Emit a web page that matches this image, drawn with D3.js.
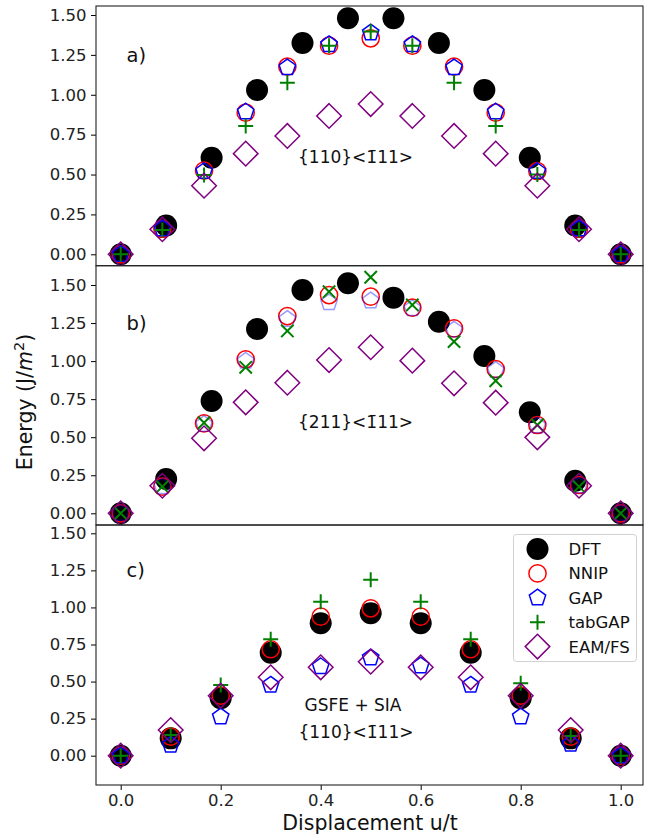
<!DOCTYPE html>
<html>
<head>
<meta charset="utf-8">
<script src="https://cdn.jsdelivr.net/npm/d3@7"></script>
<style>
  body { margin: 0; background: #fff; }
  text { font-family: "DejaVu Sans", sans-serif; }
</style>
</head>
<body>
<script>
// x positions of the samples
var xDFT = [0, 0.0909, 0.1818, 0.2727, 0.3636, 0.4545, 0.5455, 0.6364, 0.7273, 0.8182, 0.9091, 1.0];
var xFit = [0, 0.0833, 0.1667, 0.25, 0.3333, 0.4167, 0.5, 0.5833, 0.6667, 0.75, 0.8333, 0.9167, 1.0];
var xSIA = [0, 0.1, 0.2, 0.3, 0.4, 0.5, 0.6, 0.7, 0.8, 0.9, 1.0];

// panel a) {110}<-111>
var dftA   = [0, 0.18, 0.605, 1.03, 1.325, 1.48, 1.48, 1.325, 1.03, 0.605, 0.18, 0];
var nnipA  = [0, 0.16, 0.525, 0.888, 1.176, 1.308, 1.354, 1.308, 1.176, 0.888, 0.522, 0.16, 0];
var gapA   = [0, 0.16, 0.52, 0.893, 1.17, 1.315, 1.389, 1.315, 1.17, 0.893, 0.52, 0.16, 0];
var tabA   = [0, 0.152, 0.497, 0.804, 1.076, 1.308, 1.396, 1.308, 1.076, 0.804, 0.5, 0.152, 0];
var eamA   = [0, 0.157, 0.43, 0.631, 0.742, 0.867, 0.942, 0.867, 0.742, 0.631, 0.43, 0.157, 0];

// panel b) {211}<-111>
var dftB   = [0, 0.225, 0.738, 1.211, 1.467, 1.511, 1.417, 1.259, 1.034, 0.664, 0.214, 0];
var nnipB  = [0, 0.175, 0.591, 1.012, 1.296, 1.434, 1.423, 1.351, 1.215, 0.948, 0.58, 0.186, 0];
var gapB   = [0, 0.175, 0.585, 1.0, 1.275, 1.384, 1.397, 1.345, 1.205, 0.94, 0.575, 0.18, 0];
var tabB   = [0, 0.175, 0.595, 0.959, 1.198, 1.456, 1.551, 1.369, 1.128, 0.871, 0.58, 0.175, 0];
var eamB   = [0, 0.181, 0.493, 0.729, 0.858, 1.007, 1.091, 1.003, 0.854, 0.727, 0.499, 0.181, 0];

// panel c) GSFE + SIA {110}<-111>
var dftC   = [0, 0.117, 0.387, 0.695, 0.893, 0.961, 0.893, 0.695, 0.387, 0.117, 0];
var nnipC  = [0, 0.128, 0.405, 0.718, 0.938, 0.994, 0.938, 0.718, 0.405, 0.128, 0];
var gapC   = [0, 0.072, 0.263, 0.477, 0.601, 0.661, 0.607, 0.477, 0.263, 0.079, 0];
var tabC   = [0, 0.14, 0.477, 0.785, 1.039, 1.186, 1.039, 0.785, 0.488, 0.133, 0];
var eamC   = [0, 0.173, 0.405, 0.529, 0.596, 0.634, 0.596, 0.529, 0.405, 0.173, 0];

var yTicks = [0, 0.25, 0.5, 0.75, 1.0, 1.25, 1.5];
var xTicks = [0, 0.2, 0.4, 0.6, 0.8, 1.0];
var seriesNames = ['DFT', 'NNIP', 'GAP', 'tabGAP', 'EAM/FS'];

var width = 649, height = 835,
  left = 96, right = 643;

var svg = d3.select('body').append('svg')
  .attr('width', width)
  .attr('height', height);

var x = d3.scaleLinear().domain([0, 1]).range([120.7, 620.7]);

var panels = [
  { top: 6, bottom: 265.7, y0: 254.3, y15: 15, label: 'a)', cross: '+',
    xd: xDFT, xf: xFit, dft: dftA, nnip: nnipA, gap: gapA, tab: tabA, eam: eamA, gapAlpha: 1,
    notes: [{ t: '{110}<1\u030411>', x: 298, y: 163, anchor: 'start' }] },
  { top: 265.7, bottom: 525, y0: 513.3, y15: 285, label: 'b)', cross: 'x',
    xd: xDFT, xf: xFit, dft: dftB, nnip: nnipB, gap: gapB, tab: tabB, eam: eamB, gapAlpha: 0.4,
    notes: [{ t: '{211}<1\u030411>', x: 298, y: 428, anchor: 'start' }] },
  { top: 525, bottom: 785, y0: 755.7, y15: 533.3, label: 'c)', cross: '+',
    xd: xSIA, xf: xSIA, dft: dftC, nnip: nnipC, gap: gapC, tab: tabC, eam: eamC, gapAlpha: 1,
    notes: [{ t: 'GSFE + SIA', x: 353, y: 711, anchor: 'middle' },
            { t: '{110}<1\u030411>', x: 356, y: 738, anchor: 'middle' }] }
];

function pentagon(r) {
  var pts = [];
  for (var i = 0; i < 5; i++) {
    var a = -Math.PI / 2 + i * 2 * Math.PI / 5;
    pts.push([r * Math.cos(a), r * Math.sin(a)]);
  }
  return 'M' + pts.join('L') + 'Z';
}

function drawMarker(g, kind, cx, cy, cross, alpha) {
  var m = g.append('g').attr('transform', 'translate(' + cx + ',' + cy + ')');
  if (kind === 'DFT') {
    m.append('circle').attr('r', 11).attr('fill', '#000');
  } else if (kind === 'NNIP') {
    m.append('circle').attr('r', 8.6).attr('fill', 'none').attr('stroke', 'red').attr('stroke-width', 1.5);
  } else if (kind === 'GAP') {
    m.append('path').attr('d', pentagon(8.6)).attr('fill', 'none')
      .attr('stroke', 'blue').attr('stroke-width', 1.5).attr('opacity', alpha);
  } else if (kind === 'tabGAP') {
    var s = 7.5;
    if (cross === 'x') {
      s = 6.2;
      m.append('path').attr('d', 'M' + -s + ',' + -s + 'L' + s + ',' + s + 'M' + -s + ',' + s + 'L' + s + ',' + -s)
        .attr('stroke', 'green').attr('stroke-width', 2).attr('fill', 'none');
    } else {
      m.append('path').attr('d', 'M' + -s + ',0L' + s + ',0M0,' + -s + 'L0,' + s)
        .attr('stroke', 'green').attr('stroke-width', 2).attr('fill', 'none');
    }
  } else {
    var d = 12.3;
    m.append('path').attr('d', 'M0,' + -d + 'L' + d + ',0L0,' + d + 'L' + -d + ',0Z')
      .attr('fill', 'none').attr('stroke', 'purple').attr('stroke-width', 1.5);
  }
}

panels.forEach(function (p, pi) {
  var y = d3.scaleLinear().domain([0, 1.5]).range([p.y0, p.y15]);
  var g = svg.append('g');

  var clipId = 'clip' + pi;
  svg.append('clipPath').attr('id', clipId).append('rect')
    .attr('x', left).attr('y', p.top).attr('width', right - left).attr('height', p.bottom - p.top);
  var marks = g.append('g').attr('clip-path', 'url(#' + clipId + ')');

  p.xd.forEach(function (xv, i) { drawMarker(marks, 'DFT', x(xv), y(p.dft[i])); });
  p.xf.forEach(function (xv, i) { drawMarker(marks, 'NNIP', x(xv), y(p.nnip[i])); });
  p.xf.forEach(function (xv, i) { drawMarker(marks, 'GAP', x(xv), y(p.gap[i]), null, p.gapAlpha); });
  p.xf.forEach(function (xv, i) { drawMarker(marks, 'tabGAP', x(xv), y(p.tab[i]), p.cross); });
  p.xf.forEach(function (xv, i) { drawMarker(marks, 'EAM/FS', x(xv), y(p.eam[i])); });

  var ax = g.append('g')
    .attr('transform', 'translate(' + left + ',0)')
    .call(d3.axisLeft(y).tickValues(yTicks).tickFormat(d3.format('.2f')).tickSize(5).tickPadding(4.5));
  ax.select('.domain').remove();
  ax.selectAll('line').attr('stroke', '#000').attr('stroke-width', 1);
  ax.selectAll('text').attr('font-size', '16.5px').attr('fill', '#222')
    .style('font-family', '"DejaVu Sans", sans-serif');

  if (pi === 2) {
    var bx = g.append('g')
      .attr('transform', 'translate(0,' + p.bottom + ')')
      .call(d3.axisBottom(x).tickValues(xTicks).tickFormat(d3.format('.1f')).tickSize(5).tickPadding(4.5));
    bx.select('.domain').remove();
    bx.selectAll('line').attr('stroke', '#000').attr('stroke-width', 1);
    bx.selectAll('text').attr('font-size', '16.5px').attr('fill', '#222')
      .style('font-family', '"DejaVu Sans", sans-serif');
  }

  g.append('rect')
    .attr('x', left).attr('y', p.top)
    .attr('width', right - left).attr('height', p.bottom - p.top)
    .attr('fill', 'none').attr('stroke', '#222').attr('stroke-width', 1.1);

  g.append('text').attr('x', 126.5).attr('y', y(1.25) + 7)
    .attr('font-size', '19.5px').attr('fill', '#111').text(p.label);

  p.notes.forEach(function (n) {
    g.append('text').attr('x', n.x).attr('y', n.y)
      .attr('text-anchor', n.anchor)
      .attr('font-size', '17px').attr('fill', '#111').text(n.t);
  });
});

// legend in panel c
var leg = svg.append('g').attr('transform', 'translate(513.5,534.5)');
leg.append('rect').attr('width', 123).attr('height', 127).attr('rx', 3)
  .attr('fill', '#fff').attr('fill-opacity', 0.8).attr('stroke', '#d0d0d0').attr('stroke-width', 1);
seriesNames.forEach(function (name, i) {
  var cy = 14.5 + i * 24.4;
  drawMarker(leg, name, 24, cy, '+', 1);
  leg.append('text').attr('x', 55).attr('y', cy + 6)
    .attr('font-size', '16.5px').attr('fill', '#111').text(name);
});

// axis labels
svg.append('text')
  .attr('x', 370).attr('y', 830)
  .attr('text-anchor', 'middle')
  .attr('font-size', '20.5px').attr('fill', '#111')
  .text('Displacement u/t');

var yl = svg.append('text')
  .attr('transform', 'translate(32,402) rotate(-90)')
  .attr('text-anchor', 'middle')
  .attr('font-size', '20.5px').attr('fill', '#111');
yl.append('tspan').text('Energy (J/');
yl.append('tspan').attr('font-style', 'italic').text('m');
yl.append('tspan').attr('dy', -8).attr('font-size', '14.5px').text('2');
yl.append('tspan').attr('dy', 8).text(')');
</script>
</body>
</html>
